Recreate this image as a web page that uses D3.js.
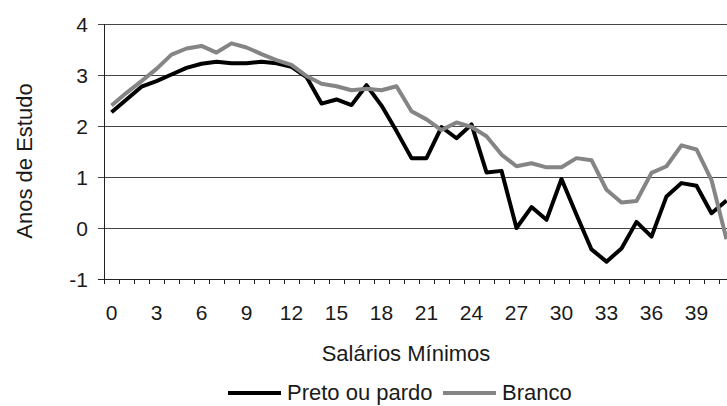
<!DOCTYPE html>
<html lang="pt">
<head>
<meta charset="UTF-8">
<title>Anos de Estudo por Salários Mínimos</title>
<script src="https://d3js.org/d3.v7.min.js"></script>
<style>
    body { margin: 0; background: #fff; }
    text {
        font-family: "Liberation Sans", Arial, sans-serif;
        fill: #1a1a1a;
    }
</style>
</head>
<body>
<svg width="727" height="406"></svg>
<script>
    // categorias do eixo x (salários mínimos)
    var salarios = d3.range(0, 42);
    var xTickLabels = [0, 3, 6, 9, 12, 15, 18, 21, 24, 27, 30, 33, 36, 39];
    var yTicks = [-1, 0, 1, 2, 3, 4];

    var pretoPardo = [2.27, 2.52, 2.77, 2.88, 3.01, 3.14, 3.22, 3.26, 3.23, 3.23,
                      3.26, 3.23, 3.16, 2.96, 2.44, 2.52, 2.41, 2.80, 2.40, 1.90,
                      1.37, 1.37, 1.98, 1.76, 2.03, 1.09, 1.12, 0.00, 0.41, 0.16,
                      0.96, 0.26, -0.42, -0.66, -0.40, 0.12, -0.17, 0.62, 0.88, 0.83,
                      0.29, 0.54];
    var branco = [2.40, 2.65, 2.88, 3.12, 3.40, 3.52, 3.57, 3.44, 3.62, 3.54,
                  3.41, 3.29, 3.20, 2.98, 2.83, 2.78, 2.70, 2.73, 2.70, 2.78,
                  2.29, 2.13, 1.92, 2.07, 1.98, 1.80, 1.44, 1.21, 1.27, 1.19,
                  1.19, 1.37, 1.33, 0.75, 0.50, 0.53, 1.08, 1.21, 1.62, 1.54,
                  0.94, -0.22];

    var svg = d3.select("svg");

    var x = d3.scaleBand()
        .domain(salarios)
        .range([104, 734]);

    var y = d3.scaleLinear()
        .domain([-1, 4])
        .range([279, 24]);

    // linhas de grade
    svg.append("g")
        .selectAll("line")
        .data(yTicks)
        .enter().append("line")
        .attr("x1", 98)
        .attr("x2", 734)
        .attr("y1", function(d) { return y(d); })
        .attr("y2", function(d) { return y(d); })
        .style("stroke", function(d) { return d === -1 ? "#222" : "#444"; })
        .style("stroke-width", 1)
        .attr("shape-rendering", "crispEdges");

    // eixo y
    svg.append("line")
        .attr("x1", 104).attr("x2", 104)
        .attr("y1", y(4)).attr("y2", y(-1))
        .style("stroke", "#222")
        .attr("shape-rendering", "crispEdges");

    // marcas do eixo x entre categorias
    var bounds = salarios.map(function(d) { return x(d); }).concat([x.range()[1]]);
    svg.append("g")
        .selectAll("line")
        .data(bounds)
        .enter().append("line")
        .attr("x1", function(d) { return d; })
        .attr("x2", function(d) { return d; })
        .attr("y1", y(-1))
        .attr("y2", y(-1) + 5)
        .style("stroke", "#222")
        .attr("shape-rendering", "crispEdges");

    svg.append("g")
        .selectAll("text")
        .data(yTicks)
        .enter().append("text")
        .attr("x", 88)
        .attr("y", function(d) { return y(d); })
        .attr("dy", "0.36em")
        .attr("text-anchor", "end")
        .style("font-size", "21px")
        .text(function(d) { return d; });

    svg.append("g")
        .selectAll("text")
        .data(xTickLabels)
        .enter().append("text")
        .attr("x", function(d) { return x(d) + x.bandwidth() / 2; })
        .attr("y", 320)
        .attr("text-anchor", "middle")
        .style("font-size", "21px")
        .text(function(d) { return d; });

    svg.append("text")
        .attr("transform", "translate(32,161) rotate(-90)")
        .attr("text-anchor", "middle")
        .style("font-size", "22px")
        .text("Anos de Estudo");

    svg.append("text")
        .attr("x", 406)
        .attr("y", 361)
        .attr("text-anchor", "middle")
        .style("font-size", "22px")
        .text("Salários Mínimos");

    var line = d3.line()
        .x(function(d, i) { return x(salarios[i]) + x.bandwidth() / 2; })
        .y(function(d) { return y(d); });

    var series = [
        { nome: "Preto ou pardo", valores: pretoPardo, cor: "#000" },
        { nome: "Branco", valores: branco, cor: "#858585" }
    ];

    svg.append("g")
        .selectAll("path")
        .data(series)
        .enter().append("path")
        .attr("d", function(d) { return line(d.valores); })
        .style("fill", "none")
        .style("stroke", function(d) { return d.cor; })
        .style("stroke-width", 4)
        .style("stroke-linejoin", "round");

    // legenda
    var legX = [228, 443];
    var leg = svg.append("g")
        .selectAll("g")
        .data(series)
        .enter().append("g")
        .attr("transform", function(d, i) { return "translate(" + legX[i] + ",393)"; });

    leg.append("line")
        .attr("x1", 0).attr("x2", 53)
        .style("stroke", function(d) { return d.cor; })
        .style("stroke-width", 4);

    leg.append("text")
        .attr("x", 59)
        .attr("dy", "0.34em")
        .style("font-size", "22px")
        .text(function(d) { return d.nome; });
</script>
</body>
</html>
